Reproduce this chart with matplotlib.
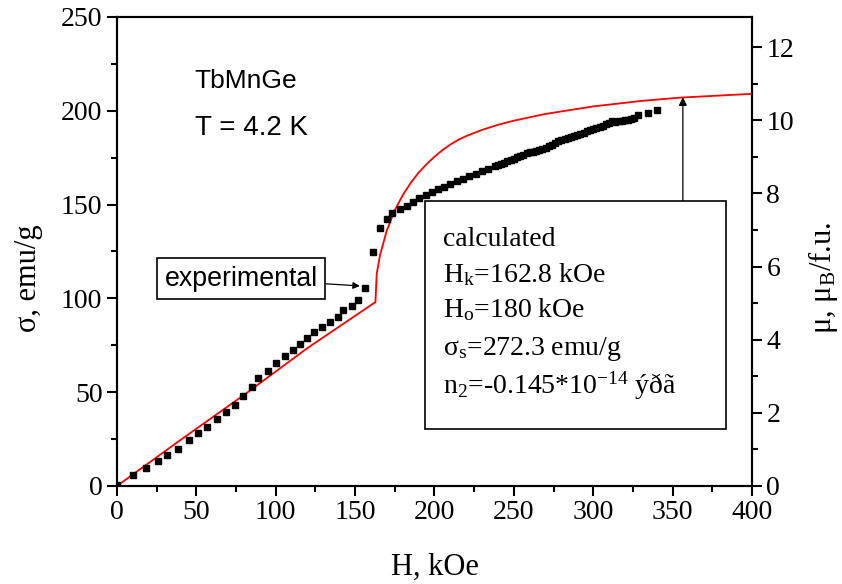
import numpy as np
import matplotlib.pyplot as plt
from matplotlib.ticker import MultipleLocator
from matplotlib.patches import Rectangle

plt.rcParams['font.family'] = ['Liberation Serif', 'DejaVu Serif']
plt.rcParams['mathtext.default'] = 'regular'

# experimental points, H (kOe) and sigma (emu/g)
h_exp = [0, 10.3, 18.1, 25.6, 31.5, 38.2, 45.1, 51.0, 56.5, 62.8, 68.5, 74.5, 79.6,
         84.8, 89.0, 95.1, 100.1, 105.8, 110.6, 115.3, 119.5, 124.3, 129.3, 134.2,
         139.0, 142.6, 147.8, 152.0, 156.2, 161.0, 165.7, 169.9, 173.0, 178.3, 182.4,
         186.7, 190.4, 194.5, 198.2, 202.4, 206.0, 210.0, 214.0, 218.0, 222.0, 226.0,
         230.0, 234.0, 238.0, 240, 242, 244, 246, 248, 250, 252, 254, 256, 258, 260,
         262, 264, 266, 268, 270, 272, 274, 276, 278, 280, 282, 284, 286, 288, 290,
         292, 294, 296, 298, 300, 302, 304, 306, 308, 310, 312, 314, 316, 318, 320,
         322, 324, 326, 328, 334.6, 340.2]
s_exp = [0.5, 5.7, 9.8, 13.1, 16.5, 19.7, 24.2, 28.1, 31.6, 35.5, 39.4, 43.3, 48.0,
         52.9, 57.7, 61.5, 65.4, 69.5, 72.5, 75.7, 78.7, 82.1, 84.6, 87.4,
         90.2, 93.8, 95.9, 99.1, 105.4, 124.5, 137.4, 142.2, 145.3, 147.5, 149.3,
         151.6, 153.3, 155.1, 156.9, 158.1, 159.6, 161.0, 162.4, 163.8, 165.1, 166.5,
         167.8, 169.0, 170.3, 171.0, 171.6, 172.3, 173.0, 173.7, 174.5, 175.3, 176.0,
         176.6, 177.2, 177.8, 178.2, 178.6, 179.0, 179.5, 180.2, 181.0, 181.9, 182.8,
         183.6, 184.3, 184.8, 185.3, 185.8, 186.4, 187.0, 187.6, 188.3, 189.0, 189.6,
         190.2, 190.9, 191.5, 192.1, 192.8, 193.6, 194.3, 194.0, 194.3, 194.6, 195.0,
         195.3, 195.6, 196.2, 197.5, 198.8, 200.6]

# calculated curve
h_calc = [0, 40, 80, 120, 162.8, 163.6, 165.7, 169.9, 175, 180, 185, 190, 195, 200,
          205, 210, 215, 220, 230, 240, 250, 270, 300, 330, 355, 400]
s_calc = [0, 24.5, 48.5, 73.5, 98, 113, 123, 136, 147, 155, 161.5, 167, 171.5, 175.5,
          179, 182, 184.5, 186.5, 189.8, 192.5, 194.7, 198.3, 202.3, 205.2, 207, 209]

box_lines = ['calculated',
             'H$_k$=162.8 kOe',
             'H$_o$=180 kOe',
             'σ$_s$=272.3 emu/g',
             'n$_2$=-0.145*10$^{-14}$ ýðã']

fig = plt.figure(figsize=(8.42, 5.84), dpi=100)
ax = fig.add_axes([0.139, 0.168, 0.754, 0.803])

ax.plot(h_calc, s_calc, color='#ff0000', lw=1.3, zorder=3)
ax.plot(h_exp, s_exp, ls='none', marker='s', ms=4.3, color='black', zorder=4)

ax.set_xlim(0, 400)
ax.set_ylim(0, 250)
ax.xaxis.set_major_locator(MultipleLocator(50))
ax.xaxis.set_minor_locator(MultipleLocator(25))
ax.yaxis.set_major_locator(MultipleLocator(50))
ax.yaxis.set_minor_locator(MultipleLocator(25))
ax.tick_params(which='both', direction='out', width=1.5, labelsize=20, top=False, right=False)
ax.tick_params(which='major', length=7)
ax.tick_params(which='minor', length=4)
for sp in ax.spines.values():
    sp.set_linewidth(1.5)

ax.set_xlabel('H, kOe', fontsize=22, labelpad=20)
ax.set_ylabel('σ, emu/g', fontsize=22)
ax.yaxis.set_label_coords(-0.117, 0.443)

# right axis in Bohr magnetons per formula unit
ax2 = ax.twinx()
ax2.set_ylim(0, 12.83)
ax2.yaxis.set_major_locator(MultipleLocator(2))
ax2.yaxis.set_minor_locator(MultipleLocator(1))
ax2.tick_params(which='both', direction='out', width=1.5, labelsize=20)
ax2.tick_params(which='major', length=7)
ax2.tick_params(which='minor', length=4)
for sp in ax2.spines.values():
    sp.set_linewidth(1.5)
ax2.set_ylabel(r'μ, μ$_B$/f.u.', fontsize=22)
ax2.yaxis.set_label_coords(1.085, 0.443)

sans = ['Liberation Sans', 'DejaVu Sans']
ax.text(49, 216, 'TbMnGe', fontsize=19, family=sans, va='center')
ax.text(49, 191, 'T = 4.2 K', fontsize=20, family=sans, va='center')

# experimental label with arrow
ax.annotate('experimental', xy=(153, 106.6), xytext=(30, 110.5),
            fontsize=19.3, family=sans, va='center', ha='left',
            bbox=dict(boxstyle='square,pad=0.28', fc='white', ec='black', lw=1.2),
            arrowprops=dict(arrowstyle='-|>', color='black', lw=0.9,
                            mutation_scale=10, shrinkA=0, shrinkB=0))

# calculated box
ax.add_patch(Rectangle((194, 30.5), 189.6, 121.2, fc='white', ec='black', lw=1.2, zorder=5))
baselines = [128.1, 108.9, 90.2, 69.8, 49.4]
for txt, yb in zip(box_lines, baselines):
    ax.text(205.2, yb, txt, fontsize=20, va='baseline', ha='left', zorder=6)
ax.annotate('', xy=(356.5, 207.2), xytext=(356.5, 151.7),
            arrowprops=dict(arrowstyle='-|>', color='black', lw=0.9,
                            mutation_scale=12, shrinkA=0, shrinkB=0))

fig.savefig('out.png', dpi=100)
